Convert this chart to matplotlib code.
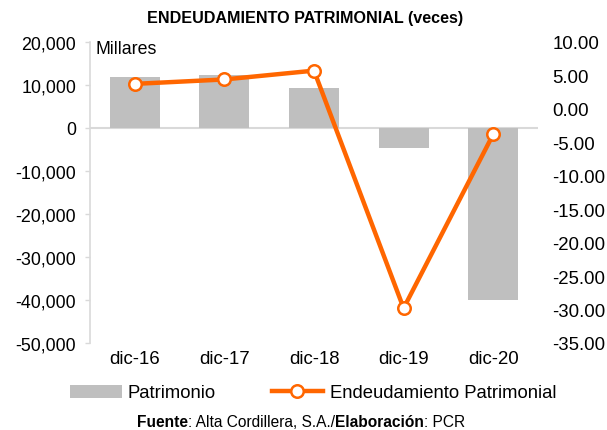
import matplotlib
matplotlib.use("Agg")
import matplotlib.pyplot as plt
from matplotlib.patches import Patch
from matplotlib.lines import Line2D
from matplotlib.ticker import FuncFormatter

plt.rcParams['font.family'] = ['Liberation Sans', 'DejaVu Sans']

categories = ["dic-16", "dic-17", "dic-18", "dic-19", "dic-20"]
patrimonio = [11800, 12300, 9300, -4650, -40000]
endeudamiento = [3.74, 4.40, 5.72, -29.8, -3.8]
left_ticks = [20000, 10000, 0, -10000, -20000, -30000, -40000, -50000]
right_ticks = [10, 5, 0, -5, -10, -15, -20, -25, -30, -35]

W, H = 607, 431
fig = plt.figure(figsize=(W / 100, H / 100), dpi=100)
ax = fig.add_axes([90 / W, 1 - 344 / H, (538 - 90) / W, (344 - 43) / H])

gray = "#BFBFBF"
orange = "#FF6600"
x = list(range(len(categories)))

ax.bar(x, patrimonio, width=0.56, color=gray, zorder=2)
ax.axhline(0, color="#D9D9D9", lw=1.5, zorder=1)
ax.set_xlim(-0.5, len(categories) - 0.5)
ax.set_ylim(-50000, 20000)
ax.set_yticks(left_ticks)
ax.yaxis.set_major_formatter(FuncFormatter(lambda v, p: f"{v:,.0f}"))
ax.set_xticks(x)
ax.set_xticklabels(categories)
ax.tick_params(axis="x", length=0, pad=5, labelsize=13.4)
ax.tick_params(axis="y", length=3.5, width=1, color="#D9D9D9", pad=6.5, labelsize=12.9)
for s in ["top", "right", "bottom"]:
    ax.spines[s].set_visible(False)
ax.spines["left"].set_color("#D9D9D9")
ax.spines["left"].set_linewidth(1.2)

ax2 = ax.twinx()
ax2.plot(x, endeudamiento, color=orange, lw=3.2, marker="o", markersize=9,
         markerfacecolor="white", markeredgecolor=orange, markeredgewidth=1.8, zorder=3)
ax2.set_ylim(-35, 10)
ax2.set_yticks(right_ticks)
ax2.yaxis.set_major_formatter(FuncFormatter(lambda v, p: f"{v:.2f}"))
ax2.tick_params(axis="y", length=0, pad=10.5, labelsize=13.4)
for s in ["top", "right", "bottom", "left"]:
    ax2.spines[s].set_visible(False)

fig.text(96 / W, 1 - 50 / H, "Millares", fontsize=12.8, va="center", ha="left")

fig.text(305 / W, 1 - 18 / H, "ENDEUDAMIENTO PATRIMONIAL (veces)",
         fontsize=11.6, fontweight="bold", ha="center", va="center")

handles = [Patch(facecolor=gray, edgecolor="none"),
           Line2D([0], [0], color=orange, lw=3.2, marker="o", markersize=9,
                  markerfacecolor="white", markeredgecolor=orange, markeredgewidth=1.8)]
fig.legend(handles, ["Patrimonio", "Endeudamiento Patrimonial"], ncol=2,
           loc="center", bbox_to_anchor=(313 / W, 1 - 394 / H), frameon=False,
           fontsize=13.3, handlelength=2.8, handletextpad=0.35, columnspacing=3.0)

parts = [("Fuente", "bold"), (": Alta Cordillera, S.A./", "normal"),
         ("Elaboración", "bold"), (": PCR", "normal")]
prev = fig.text(137 / W, 1 - 427 / H, parts[0][0], fontsize=11.2, fontweight=parts[0][1],
                ha="left", va="baseline")
for txt, wgt in parts[1:]:
    prev = fig.add_artist(matplotlib.text.Annotation(
        txt, xy=(1, 0), xycoords=prev, fontsize=11.2, fontweight=wgt,
        ha="left", va="bottom"))
fig.savefig("out.png", dpi=100)
